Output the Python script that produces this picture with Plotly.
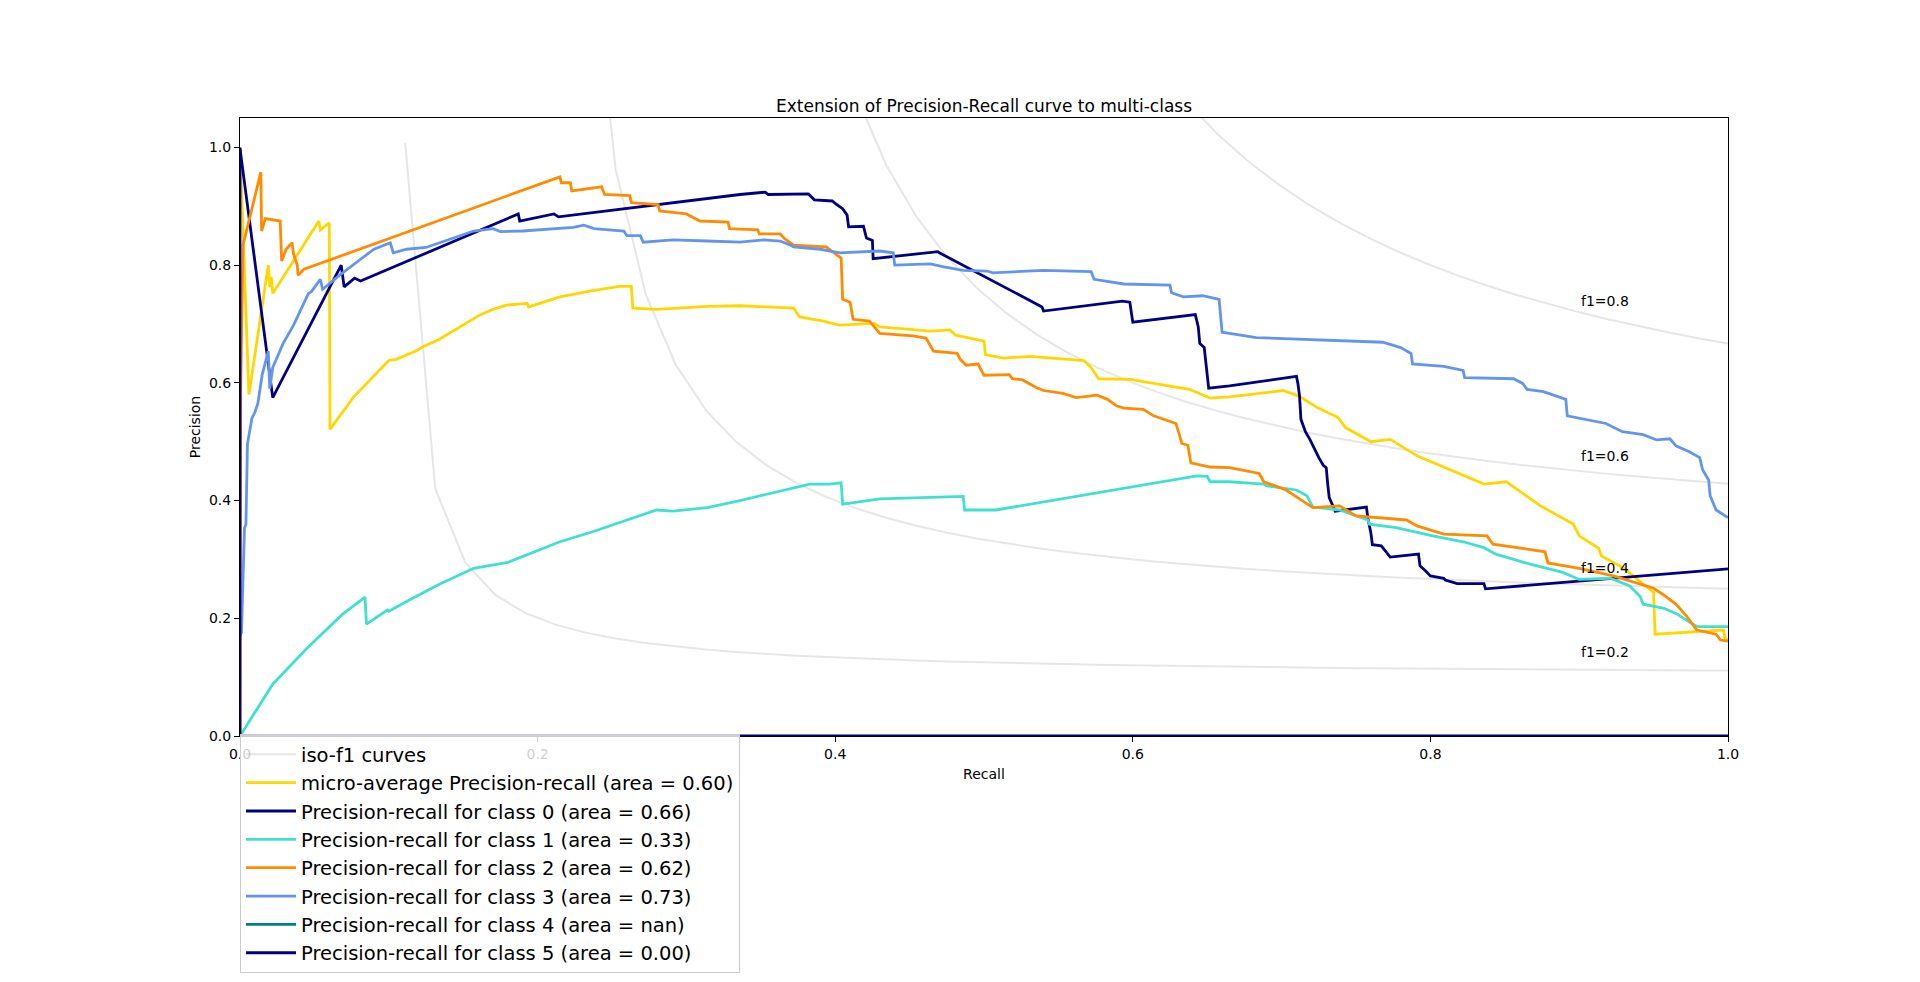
import numpy as np
import plotly.graph_objects as go

# iso-f1 guide levels
F_SCORES = [0.2, 0.4, 0.6, 0.8]

# (recall, precision) pairs
MICRO_PR = [
    (0.0, 1.0), (0.006, 0.58), (0.019, 0.80), (0.020, 0.763), (0.021, 0.78), (0.022, 0.752),
    (0.053, 0.875), (0.054, 0.86), (0.060, 0.872), (0.0605, 0.521), (0.076, 0.575), (0.100, 0.638),
    (0.105, 0.64), (0.119, 0.655), (0.122, 0.66), (0.134, 0.674), (0.161, 0.715), (0.170, 0.725),
    (0.179, 0.732), (0.193, 0.735), (0.194, 0.729), (0.215, 0.746), (0.235, 0.756), (0.255, 0.764),
    (0.263, 0.764), (0.264, 0.727), (0.280, 0.725), (0.314, 0.73), (0.336, 0.731), (0.372, 0.727),
    (0.376, 0.712), (0.392, 0.705), (0.403, 0.698), (0.426, 0.701), (0.430, 0.695), (0.464, 0.688),
    (0.477, 0.690), (0.481, 0.681), (0.500, 0.671), (0.501, 0.648), (0.513, 0.642), (0.531, 0.645),
    (0.567, 0.638), (0.572, 0.626), (0.577, 0.607), (0.598, 0.606), (0.638, 0.589), (0.652, 0.574),
    (0.665, 0.576), (0.701, 0.587), (0.712, 0.577), (0.724, 0.558), (0.738, 0.541), (0.743, 0.524),
    (0.760, 0.500), (0.773, 0.504), (0.791, 0.476), (0.822, 0.442), (0.836, 0.428), (0.851, 0.432),
    (0.874, 0.391), (0.896, 0.360), (0.900, 0.340), (0.913, 0.319), (0.915, 0.306), (0.930, 0.285),
    (0.950, 0.244), (0.951, 0.173), (0.997, 0.180), (0.998, 0.166), (1.0, 0.163),
]

CLASS0_PR = [
    (0.0, 0.998), (0.022, 0.575), (0.068, 0.80), (0.070, 0.763), (0.077, 0.778), (0.081, 0.773),
    (0.187, 0.887), (0.188, 0.875), (0.211, 0.887), (0.214, 0.882), (0.336, 0.920), (0.353, 0.924),
    (0.355, 0.920), (0.382, 0.921), (0.386, 0.911), (0.398, 0.909), (0.401, 0.903), (0.405, 0.896),
    (0.408, 0.885), (0.409, 0.865), (0.419, 0.866), (0.421, 0.846), (0.425, 0.842), (0.4255, 0.811),
    (0.469, 0.823), (0.470, 0.821), (0.539, 0.729), (0.540, 0.722), (0.593, 0.739), (0.598, 0.737),
    (0.600, 0.703), (0.642, 0.716), (0.644, 0.695), (0.645, 0.667), (0.648, 0.660), (0.649, 0.633),
    (0.651, 0.591), (0.665, 0.595), (0.710, 0.611), (0.711, 0.598), (0.712, 0.579), (0.713, 0.538),
    (0.716, 0.517), (0.719, 0.504), (0.722, 0.488), (0.725, 0.473), (0.728, 0.460), (0.730, 0.456),
    (0.731, 0.428), (0.732, 0.405), (0.735, 0.388), (0.736, 0.382), (0.757, 0.389), (0.758, 0.370),
    (0.760, 0.345), (0.761, 0.325), (0.767, 0.323), (0.770, 0.313), (0.773, 0.304), (0.792, 0.309),
    (0.793, 0.289), (0.797, 0.280), (0.800, 0.272), (0.809, 0.268), (0.810, 0.265), (0.818, 0.259),
    (0.836, 0.259), (0.837, 0.250), (1.0, 0.284),
]

CLASS1_PR = [
    (0.0, 0.0), (0.022, 0.088), (0.045, 0.149), (0.069, 0.207), (0.084, 0.236), (0.085, 0.190),
    (0.099, 0.214), (0.100, 0.212), (0.116, 0.234), (0.134, 0.258), (0.157, 0.285), (0.175, 0.293),
    (0.180, 0.295), (0.215, 0.330), (0.237, 0.347), (0.280, 0.384), (0.291, 0.382), (0.314, 0.388),
    (0.336, 0.400), (0.383, 0.428), (0.396, 0.428), (0.404, 0.430), (0.405, 0.394), (0.430, 0.403),
    (0.452, 0.405), (0.486, 0.407), (0.487, 0.384), (0.508, 0.384), (0.643, 0.442), (0.650, 0.441),
    (0.652, 0.432), (0.665, 0.432), (0.688, 0.428), (0.690, 0.425), (0.710, 0.418), (0.717, 0.408),
    (0.721, 0.389), (0.739, 0.384), (0.758, 0.367), (0.759, 0.360), (0.777, 0.354), (0.800, 0.341),
    (0.822, 0.330), (0.836, 0.320), (0.844, 0.309), (0.867, 0.292), (0.889, 0.278), (0.900, 0.266),
    (0.921, 0.268), (0.934, 0.255), (0.941, 0.237), (0.943, 0.224), (0.957, 0.217), (0.966, 0.207),
    (0.972, 0.197), (0.979, 0.186), (1.0, 0.186),
]

CLASS2_PR = [
    (0.0, 0.0), (0.0005, 0.59), (0.002, 0.834), (0.014, 0.958), (0.0145, 0.858), (0.017, 0.879),
    (0.027, 0.875), (0.0275, 0.838), (0.028, 0.807), (0.031, 0.827), (0.035, 0.838), (0.036, 0.818),
    (0.0385, 0.80), (0.039, 0.783), (0.043, 0.793), (0.215, 0.950), (0.216, 0.940), (0.222, 0.940),
    (0.223, 0.926), (0.243, 0.933), (0.245, 0.920), (0.262, 0.918), (0.263, 0.906), (0.281, 0.903),
    (0.282, 0.892), (0.300, 0.887), (0.305, 0.880), (0.309, 0.875), (0.328, 0.873), (0.329, 0.862),
    (0.348, 0.860), (0.349, 0.853), (0.363, 0.853), (0.366, 0.845), (0.372, 0.834), (0.394, 0.831),
    (0.397, 0.825), (0.401, 0.817), (0.404, 0.812), (0.405, 0.742), (0.410, 0.737), (0.412, 0.708),
    (0.423, 0.705), (0.430, 0.684), (0.452, 0.680), (0.461, 0.676), (0.466, 0.654), (0.482, 0.650),
    (0.484, 0.640), (0.488, 0.630), (0.496, 0.632), (0.500, 0.613), (0.517, 0.614), (0.519, 0.607),
    (0.526, 0.605), (0.535, 0.592), (0.540, 0.587), (0.553, 0.582), (0.562, 0.575), (0.576, 0.579),
    (0.583, 0.572), (0.589, 0.561), (0.594, 0.557), (0.607, 0.555), (0.614, 0.544), (0.629, 0.531),
    (0.633, 0.497), (0.637, 0.494), (0.639, 0.464), (0.652, 0.457), (0.665, 0.456), (0.685, 0.446),
    (0.688, 0.432), (0.699, 0.422), (0.703, 0.418), (0.721, 0.388), (0.739, 0.391), (0.750, 0.374),
    (0.766, 0.371), (0.784, 0.367), (0.791, 0.357), (0.809, 0.343), (0.838, 0.340), (0.842, 0.326),
    (0.856, 0.321), (0.877, 0.313), (0.879, 0.294), (0.900, 0.285), (0.923, 0.272), (0.950, 0.251),
    (0.956, 0.241), (0.965, 0.224), (0.972, 0.204), (0.979, 0.180), (0.992, 0.173), (0.995, 0.163),
    (1.0, 0.161),
]

CLASS3_PR = [
    (0.0, 0.17), (0.001, 0.176), (0.003, 0.353), (0.004, 0.36), (0.005, 0.496), (0.008, 0.54),
    (0.010, 0.55), (0.012, 0.565), (0.015, 0.615), (0.019, 0.654), (0.020, 0.59), (0.022, 0.626),
    (0.029, 0.667), (0.036, 0.698), (0.046, 0.752), (0.048, 0.755), (0.054, 0.776), (0.0555, 0.759),
    (0.057, 0.762), (0.067, 0.783), (0.081, 0.810), (0.090, 0.827), (0.101, 0.838), (0.103, 0.821),
    (0.112, 0.827), (0.125, 0.830), (0.157, 0.858), (0.170, 0.862), (0.175, 0.857), (0.190, 0.858),
    (0.224, 0.864), (0.231, 0.868), (0.238, 0.862), (0.258, 0.858), (0.260, 0.850), (0.269, 0.850),
    (0.271, 0.839), (0.291, 0.843), (0.314, 0.841), (0.336, 0.839), (0.352, 0.843), (0.363, 0.841),
    (0.370, 0.834), (0.372, 0.831), (0.390, 0.827), (0.403, 0.821), (0.430, 0.824), (0.439, 0.821),
    (0.440, 0.800), (0.464, 0.802), (0.473, 0.797), (0.486, 0.791), (0.502, 0.790), (0.506, 0.787),
    (0.540, 0.791), (0.572, 0.789), (0.574, 0.776), (0.594, 0.768), (0.625, 0.766), (0.626, 0.753),
    (0.634, 0.746), (0.647, 0.748), (0.658, 0.742), (0.660, 0.686), (0.665, 0.684), (0.683, 0.677),
    (0.768, 0.669), (0.780, 0.660), (0.787, 0.650), (0.788, 0.632), (0.809, 0.628), (0.822, 0.621),
    (0.823, 0.609), (0.856, 0.607), (0.862, 0.599), (0.865, 0.589), (0.876, 0.585), (0.891, 0.572),
    (0.892, 0.544), (0.903, 0.538), (0.918, 0.531), (0.929, 0.517), (0.943, 0.512), (0.952, 0.503),
    (0.961, 0.505), (0.965, 0.493), (0.974, 0.483), (0.981, 0.473), (0.983, 0.452), (0.987, 0.435),
    (0.988, 0.408), (0.992, 0.384), (0.996, 0.377), (1.0, 0.371),
]

# class 4 has no positive samples -> nothing drawn
CLASS4_PR = []

CLASS5_PR = [(0.0, 1.0), (0.0, 0.0), (1.0, 0.0)]

CLASS_CURVES = [CLASS0_PR, CLASS1_PR, CLASS2_PR, CLASS3_PR, CLASS4_PR, CLASS5_PR]
CLASS_AREAS = ['0.66', '0.33', '0.62', '0.73', 'nan', '0.00']
MICRO_AREA = '0.60'

COLORS = ['navy', 'turquoise', 'darkorange', 'cornflowerblue', 'teal', 'navy']
FONT = 'DejaVu Sans'

fig = go.Figure()
annotations = []

# iso-f1 curves
x_iso = np.linspace(0.01, 1, 50)
for i, f_score in enumerate(F_SCORES):
    y_iso = f_score * x_iso / (2 * x_iso - f_score)
    keep = y_iso >= 0
    fig.add_trace(go.Scatter(
        x=x_iso[keep], y=y_iso[keep], mode='lines',
        line=dict(color='rgba(128,128,128,0.2)', width=2),
        name='iso-f1 curves', legendgroup='iso',
        showlegend=(i == 0), hoverinfo='skip'
    ))
    annotations.append(dict(
        x=0.9, y=y_iso[45] + 0.02, xref='x', yref='y',
        text='f1={0:0.1f}'.format(f_score), showarrow=False,
        xanchor='left', yanchor='bottom', yshift=-4,
        font=dict(family=FONT, size=14, color='black')
    ))


def split(pairs):
    return [p[0] for p in pairs], [p[1] for p in pairs]


r, p = split(MICRO_PR)
fig.add_trace(go.Scatter(
    x=r, y=p, mode='lines', line=dict(color='gold', width=2.8),
    name='micro-average Precision-recall (area = {})'.format(MICRO_AREA),
    legendgroup='micro'
))

for k, (curve, color, area) in enumerate(zip(CLASS_CURVES, COLORS, CLASS_AREAS)):
    r, p = split(curve)
    fig.add_trace(go.Scatter(
        x=r if r else [None], y=p if p else [None], mode='lines',
        line=dict(color=color, width=2.8),
        name='Precision-recall for class {0} (area = {1})'.format(k, area),
        legendgroup='c{}'.format(k)
    ))

axis_style = dict(
    showline=True, linecolor='black', linewidth=1, mirror=True,
    ticks='outside', ticklen=5, tickwidth=1, tickcolor='black',
    showgrid=False, zeroline=False, tickformat='.1f',
    tickfont=dict(family=FONT, size=14, color='black'),
    layer='below traces'
)

fig.update_xaxes(range=[0, 1], dtick=0.2,
                 title=dict(text='Recall', standoff=8,
                            font=dict(family=FONT, size=14, color='black')),
                 **axis_style)
fig.update_yaxes(range=[0, 1.05], dtick=0.2,
                 title=dict(text='Precision', standoff=5,
                            font=dict(family=FONT, size=14, color='black')),
                 **axis_style)

# the page body adds an 8px margin, so the figure is sized to fit inside it;
# autoexpand off so the legend hanging below the axes doesn't squash the plot
fig.update_layout(
    width=1904, height=966,
    margin=dict(l=232, r=184, t=110, b=238, autoexpand=False),
    plot_bgcolor='white', paper_bgcolor='white',
    title=dict(text='Extension of Precision-Recall curve to multi-class',
               x=0.5, xanchor='center', xref='paper',
               y=1, yref='paper', yanchor='bottom', pad=dict(b=6),
               font=dict(family=FONT, size=17, color='black')),
    legend=dict(
        x=0, y=0.003, xanchor='left', yanchor='top',
        bgcolor='rgba(255,255,255,0.8)', bordercolor='#cccccc', borderwidth=1,
        font=dict(family=FONT, size=19.5, color='black'),
        tracegroupgap=0, itemwidth=50
    ),
    annotations=annotations,
    showlegend=True
)

fig.write_html('out.html')
